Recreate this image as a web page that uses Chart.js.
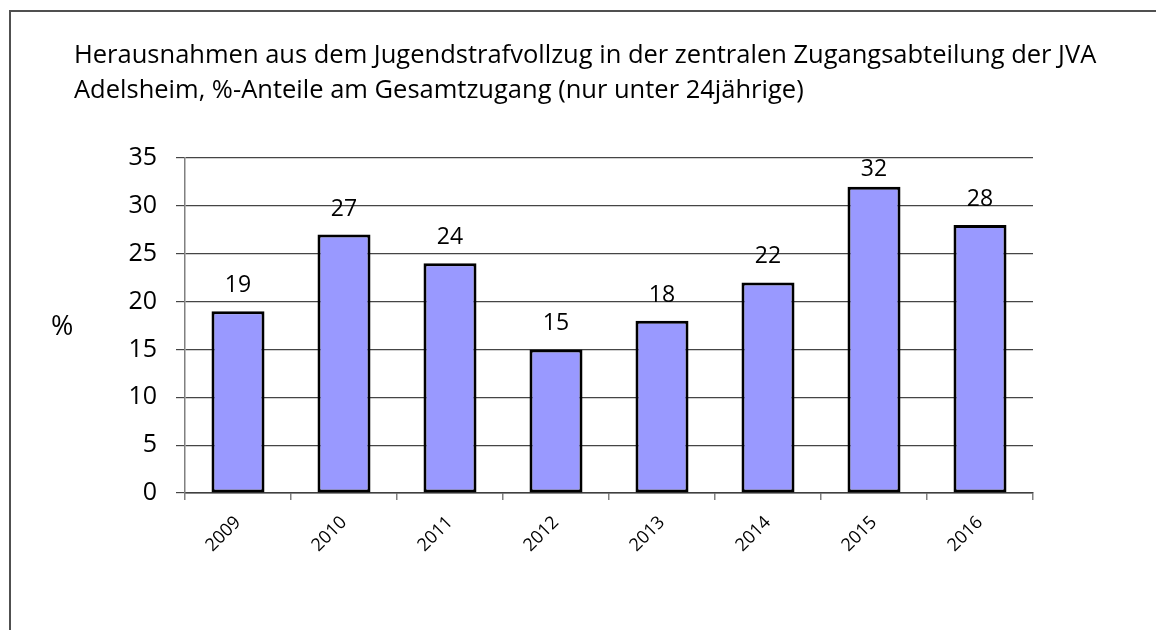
<!DOCTYPE html>
<html>
<head>
<meta charset="utf-8">
<script src="https://cdn.jsdelivr.net/npm/chart.js@4.4.1/dist/chart.umd.min.js"></script>
<style>
  html, body { margin: 0; padding: 0; background: #fff; overflow: hidden; }
  #frame { position: absolute; left: 9px; top: 10px; width: 1300px; height: 800px;
           border-left: 2px solid #505050; border-top: 2px solid #505050; }
  #chart { position: absolute; left: 0; top: 0; }
</style>
</head>
<body>
<div id="frame"></div>
<canvas id="chart" width="1156" height="630"></canvas>
<script>
// data
const years = ['2009', '2010', '2011', '2012', '2013', '2014', '2015', '2016'];
const shares = [19, 27, 24, 15, 18, 22, 32, 28];
const yTicks = [0, 5, 10, 15, 20, 25, 30, 35];
const titleLines = [
  'Herausnahmen aus dem Jugendstrafvollzug in der zentralen Zugangsabteilung der JVA',
  'Adelsheim, %-Anteile am Gesamtzugang (nur unter 24jährige)'
];
const yLabel = '%';

Chart.defaults.font.family = "'Open Sans', sans-serif";
Chart.defaults.color = '#000';

// title + y label drawn as plain text
const textPlugin = {
  id: 'texts',
  afterDraw(chart) {
    const ctx = chart.ctx;
    ctx.save();
    ctx.fillStyle = '#000';
    ctx.textAlign = 'left';
    ctx.textBaseline = 'alphabetic';
    ctx.font = "25.5px 'Open Sans'";
    ctx.fillText(titleLines[0], 74, 63);
    ctx.fillText(titleLines[1], 74, 98);
    ctx.font = "27px 'Open Sans'";
    ctx.fillText(yLabel, 51, 335);
    ctx.restore();
  }
};

// value labels above the bars (kept inside the plot area like the original)
const valuePlugin = {
  id: 'values',
  afterDatasetsDraw(chart) {
    const ctx = chart.ctx;
    const meta = chart.getDatasetMeta(0);
    const top = chart.chartArea.top;
    ctx.save();
    ctx.fillStyle = '#000';
    ctx.font = "23px 'Open Sans'";
    ctx.textAlign = 'center';
    ctx.textBaseline = 'alphabetic';
    meta.data.forEach((bar, i) => {
      const y = Math.max(bar.y - 19, top + 18);
      ctx.fillText(String(shares[i]), bar.x, y);
    });
    ctx.restore();
  }
};

const ctx = document.getElementById('chart');
new Chart(ctx, {
  type: 'bar',
  data: {
    labels: years,
    datasets: [{
      data: shares,
      backgroundColor: '#9999FF',
      borderColor: '#000',
      borderWidth: 3,
      borderSkipped: false,
      categoryPercentage: 1,
      barPercentage: 0.5
    }]
  },
  options: {
    responsive: false,
    animation: false,
    layout: { padding: { left: 100, top: 158, right: 123, bottom: 57 } },
    plugins: {
      legend: { display: false },
      title: { display: false },
      tooltip: { enabled: false }
    },
    scales: {
      x: {
        afterFit(scale) { scale.height = 80; },
        grid: { drawOnChartArea: false, drawTicks: true, tickLength: 7, color: '#808080', lineWidth: 1.5, offset: true },
        border: { color: '#404040', width: 1.5 },
        ticks: { minRotation: 45, maxRotation: 45, padding: 12, font: { size: 18 }, color: '#000' }
      },
      y: {
        min: 0,
        max: 35,
        afterFit(scale) { scale.width = 85; },
        afterBuildTicks(scale) { scale.ticks = yTicks.map(v => ({ value: v })); },
        grid: { color: '#454545', lineWidth: 1.2, tickLength: 9 },
        border: { color: '#808080', width: 1.5 },
        ticks: { stepSize: 5, padding: 19, font: { size: 25 }, color: '#000' }
      }
    }
  },
  plugins: [textPlugin, valuePlugin]
});
</script>
</body>
</html>
